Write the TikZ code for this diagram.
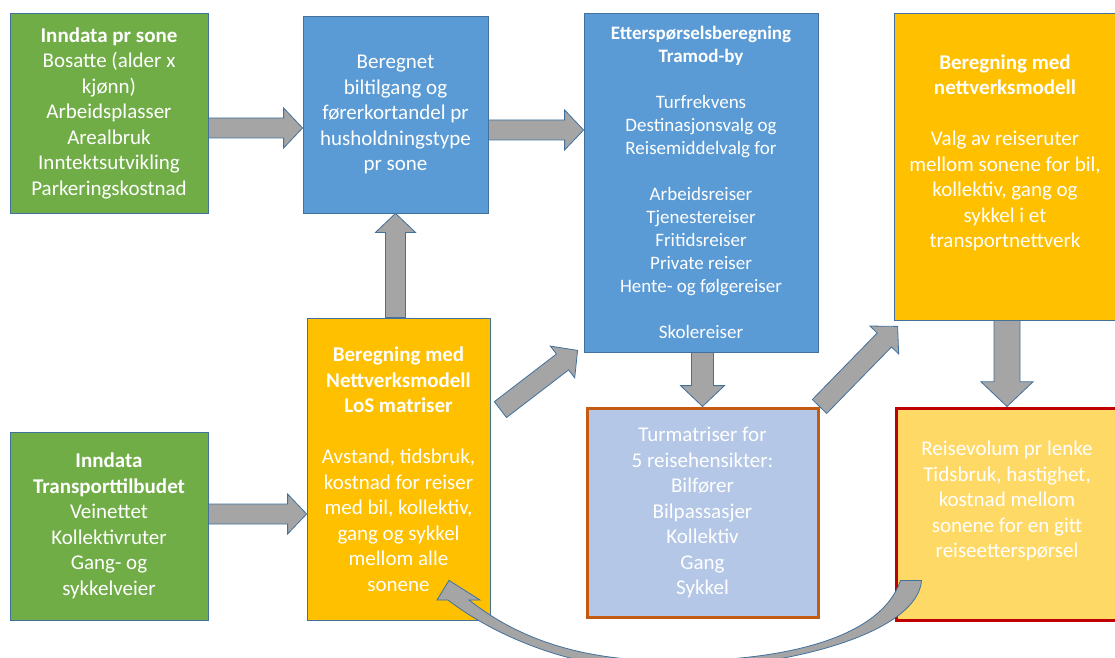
\documentclass[tikz,border=0pt]{standalone}
\usepackage{fontspec}
\setmainfont{Carlito}
\usetikzlibrary{calc}

\definecolor{grn}{HTML}{70AD47}
\definecolor{blu}{HTML}{5B9BD5}
\definecolor{gld}{HTML}{FFC000}
\definecolor{ltblu}{HTML}{B4C7E7}
\definecolor{ltgld}{HTML}{FFD966}
\definecolor{outl}{HTML}{41719C}
\definecolor{arrgray}{HTML}{A5A5A5}
\definecolor{rustor}{HTML}{C55A11}
\definecolor{darkred}{HTML}{C00000}

% block arrow from tail #2 to tip #3, #1 = size factor
\newcommand{\blockarrow}[3][1]{%
  \pgfmathsetmacro{\baS}{10*#1}%
  \pgfmathsetmacro{\baH}{20*#1}%
  \pgfmathsetmacro{\baL}{19*#1}%
  \coordinate (ba-s) at (#2);
  \coordinate (ba-t) at (#3);
  \coordinate (ba-h) at ($(ba-t)!\baL pt!(ba-s)$);
  \draw[barrow] ($(ba-s)!\baS pt!90:(ba-t)$) -- ($(ba-h)!\baS pt!90:(ba-t)$)
    -- ($(ba-h)!\baH pt!90:(ba-t)$) -- (ba-t) -- ($(ba-h)!\baH pt!-90:(ba-t)$)
    -- ($(ba-h)!\baS pt!-90:(ba-t)$) -- ($(ba-s)!\baS pt!-90:(ba-t)$) -- cycle;
}

\begin{document}
\begin{tikzpicture}[x=1pt, y=1pt,
    flowbox/.style={draw=outl, line width=0.8pt, align=center, text=white, inner sep=0pt,
      font=\fontsize{21}{25.5}\selectfont},
    greenbox/.style={flowbox, fill=grn},
    bluebox/.style={flowbox, fill=blu},
    goldbox/.style={flowbox, fill=gld},
    boxtext/.style={align=center, text=white, inner sep=0pt, font=\fontsize{21}{25.5}\selectfont},
    barrow/.style={draw=outl, line width=0.8pt, fill=arrgray, line join=miter}]
    % Canvas
    \clip (0,0) rectangle (1115,657);
    \fill[white] (0,0) rectangle (1115,657);

    % Input data
    \node[greenbox, minimum width=198pt, minimum height=200pt] (inSone) at (109,544)
      {\textbf{Inndata pr sone}\\ Bosatte (alder x\\ kjønn)\\ Arbeidsplasser\\ Arealbruk\\ Inntektsutvikling\\ Parkeringskostnad};
    \node[greenbox, minimum width=198pt, minimum height=188pt] (inTransport) at (109,131)
      {\textbf{Inndata}\\ \textbf{Transporttilbudet}\\ Veinettet\\ Kollektivruter\\ Gang- og\\ sykkelveier};

    % Car access and demand model
    \node[bluebox, minimum width=185pt, minimum height=197pt] (bilTilgang) at (395.5,542.5)
      {Beregnet\\ biltilgang og\\ førerkortandel pr\\ husholdningstype\\ pr sone};
    \node[bluebox, minimum width=234pt, minimum height=339pt, font=\fontsize{19}{23}\selectfont] (ettersp) at (701,474.5)
      {\textbf{Etterspørselsberegning}\\ \textbf{Tramod-by}\\[23pt] Turfrekvens\\ Destinasjonsvalg og\\ Reisemiddelvalg for\\[23pt]
       Arbeidsreiser\\ Tjenestereiser\\ Fritidsreiser\\ Private reiser\\ Hente- og følgereiser\\[23pt] Skolereiser};

    % Network model
    \node[goldbox, minimum width=183pt, minimum height=302pt] (losMatr) at (398.5,188)
      {\textbf{Beregning med}\\ \textbf{Nettverksmodell}\\ \textbf{LoS matriser}\\[25.5pt] Avstand, tidsbruk,\\ kostnad for reiser\\
       med bil, kollektiv,\\ gang og sykkel\\ mellom alle\\ sonene};
    \node[goldbox, minimum width=224pt, minimum height=307pt] (nettModell) at (1006,490.5) {};
    \node[boxtext] (nettModellTxt) at (1005,504)
      {\textbf{Beregning med}\\ \textbf{nettverksmodell}\\[25.5pt] Valg av reiseruter\\ mellom sonene for bil,\\ kollektiv, gang og\\ sykkel i et\\ transportnettverk};

    % Results
    \node[flowbox, fill=ltblu, draw=rustor, line width=3pt, minimum width=231pt, minimum height=209pt] (turMatr) at (702.5,144.5)
      {Turmatriser for\\ 5 reisehensikter:\\ Bilfører\\ Bilpassasjer\\ Kollektiv\\ Gang\\ Sykkel};
    \node[flowbox, fill=ltgld, draw=darkred, line width=3pt, minimum width=222pt, minimum height=212pt] (reiseVol) at (1007,143) {};
    \node[boxtext] (reiseVolTxt) at (1007,156)
      {Reisevolum pr lenke\\ Tidsbruk, hastighet,\\ kostnad mellom\\ sonene for en gitt\\ reiseetterspørsel};

    % Arrows
    \blockarrow{[yshift=-15pt]inSone.east}{[yshift=-13.5pt]bilTilgang.west}
    \blockarrow{[yshift=-15.5pt]bilTilgang.east}{[yshift=52.5pt]ettersp.west}
    \blockarrow{bilTilgang.south |- losMatr.north}{bilTilgang.south}
    \blockarrow{[shift={(10pt,-92pt)}]losMatr.north east}{[shift={(-6pt,2pt)}]ettersp.south west}
    \blockarrow{[yshift=12pt]inTransport.east}{[yshift=-45pt]losMatr.west}
    \blockarrow[1.1]{turMatr.north |- ettersp.south}{turMatr.north}
    \blockarrow{turMatr.north east}{[shift={(4pt,-6pt)}]nettModell.south west}
    \blockarrow[1.3]{reiseVol.north |- nettModell.south}{reiseVol.north}

    % Feedback arrow
    \draw[barrow] (469,57) .. controls (530,9) and (600,-4) .. (675,-4)
      .. controls (780,-4) and (880,17) .. ($(reiseVol.south west)+(6,41)$)
      -- ($(reiseVol.south west)+(27,41)$)
      .. controls (918,27) and (800,-11) .. (660,-13)
      .. controls (580,-13) and (500,17) .. (448,57)
      -- (437,57) -- ($(losMatr.south)+(50.5,40)$) -- (480,57) -- cycle;
\end{tikzpicture}
\end{document}
